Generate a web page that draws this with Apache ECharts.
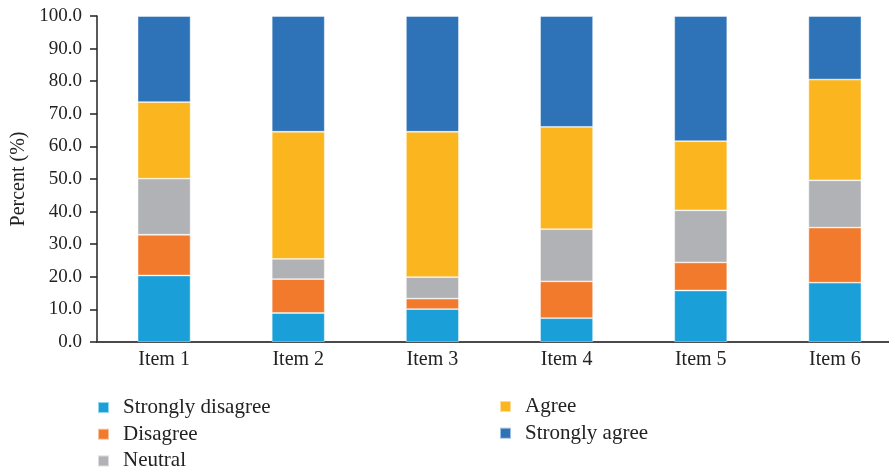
<!DOCTYPE html>
<html>
<head>
<meta charset="utf-8">
<script src="https://cdn.jsdelivr.net/npm/echarts@6/dist/echarts.min.js"></script>
<style>
  html, body { margin: 0; padding: 0; background: #fff; overflow: hidden; }
  #chart { width: 902px; height: 468px; }
</style>
</head>
<body>
<div id="chart"></div>
<script>
// data (percent)
var items = ['Item 1', 'Item 2', 'Item 3', 'Item 4', 'Item 5', 'Item 6'];
var stronglyDisagree = [20.4, 8.9, 10.1, 7.3, 15.8, 18.2];
var disagree = [12.5, 10.4, 3.2, 11.3, 8.6, 16.9];
var neutral = [17.2, 6.2, 6.6, 16.0, 16.0, 14.5];
var agree = [23.5, 39.0, 44.6, 31.4, 21.2, 30.9];
var stronglyAgree = [26.4, 35.5, 35.5, 34.0, 38.4, 19.5];

var font = 'Liberation Serif';
var chart = echarts.init(document.getElementById('chart'));

function bar(name, data, color) {
  return {
    name: name,
    type: 'bar',
    stack: 'total',
    barWidth: '39.5%',
    data: data,
    itemStyle: { color: color, borderColor: 'rgba(255,255,255,0.55)', borderWidth: 0.8 }
  };
}

var legendText = { fontFamily: font, fontSize: 21, color: '#222', lineHeight: 20, padding: [0, 0, 0, 9] };

var option = {
  animation: false,
  grid: { left: 97, right: 0, top: 16, bottom: 126 },
  legend: [
    {
      data: ['Strongly disagree', 'Disagree', 'Neutral'],
      orient: 'vertical', left: 97, top: 397, height: 90, padding: 0,
      icon: 'rect', itemWidth: 11, itemHeight: 11, itemGap: 5.7,
      textStyle: legendText
    },
    {
      data: ['Agree', 'Strongly agree'],
      orient: 'vertical', left: 499, top: 396, height: 90, padding: 0,
      icon: 'rect', itemWidth: 11, itemHeight: 11, itemGap: 5.7,
      textStyle: legendText
    }
  ],
  xAxis: {
    type: 'category',
    data: items,
    axisLine: { lineStyle: { color: '#4a4a4a', width: 2 } },
    axisTick: { show: false },
    axisLabel: { fontFamily: font, fontSize: 20, color: '#222', margin: 8 }
  },
  yAxis: {
    type: 'value',
    min: 0, max: 100, interval: 10,
    name: 'Percent (%)',
    nameLocation: 'middle',
    nameGap: 62,
    nameTextStyle: { fontFamily: font, fontSize: 20, color: '#222' },
    axisLine: { show: true, lineStyle: { color: '#222', width: 1.5 } },
    axisTick: { show: true, length: 7, lineStyle: { color: '#222', width: 1.5 } },
    axisLabel: {
      fontFamily: font, fontSize: 19, color: '#222', margin: 15,
      formatter: function (v) { return v.toFixed(1); }
    },
    splitLine: { show: false }
  },
  series: [
    bar('Strongly disagree', stronglyDisagree, '#1a9fd9'),
    bar('Disagree', disagree, '#f27a2c'),
    bar('Neutral', neutral, '#b1b2b5'),
    bar('Agree', agree, '#fbb51e'),
    bar('Strongly agree', stronglyAgree, '#2e72b8')
  ]
};

chart.setOption(option);
</script>
</body>
</html>
